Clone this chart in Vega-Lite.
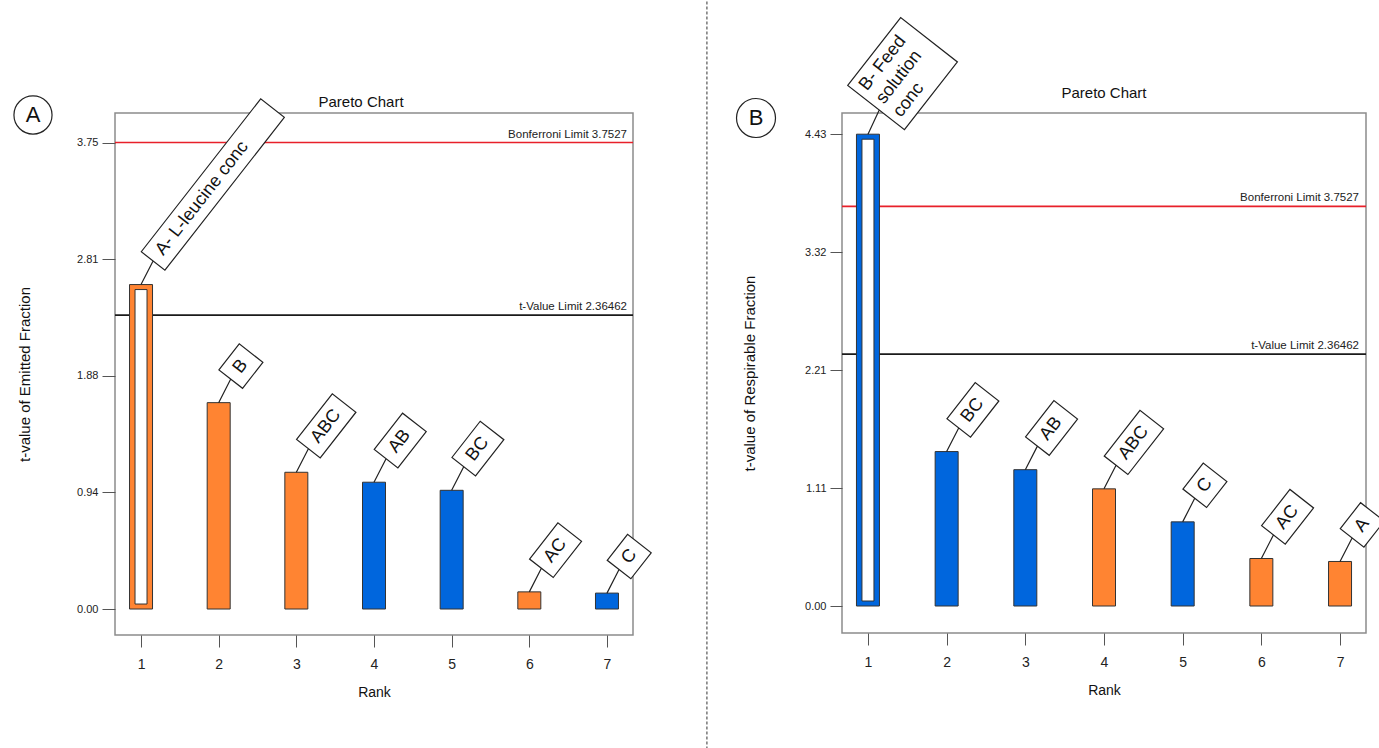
{
  "$schema": "https://vega.github.io/schema/vega-lite/v6.json",
  "padding": {"left": 10, "top": 0, "right": 0, "bottom": 0},
  "background": "white",
  "spacing": 209,
  "bounds": "flush",
  "config": {
    "font": "Liberation Sans",
    "view": {"stroke": "#8c8c8c", "strokeWidth": 1.5},
    "axis": {"grid": false, "domain": false, "tickColor": "#555", "tickWidth": 1, "labelColor": "#222", "titleColor": "#111", "titleFontWeight": "normal", "labelFont": "Liberation Sans", "titleFont": "Liberation Sans"}
  },
  "datasets": {
    "effA": [
      {"rank": 1, "tvalue": 2.61, "label": "A- L-leucine conc", "effect": "positive"},
      {"rank": 2, "tvalue": 1.66, "label": "B", "effect": "positive"},
      {"rank": 3, "tvalue": 1.10, "label": "ABC", "effect": "positive"},
      {"rank": 4, "tvalue": 1.02, "label": "AB", "effect": "negative"},
      {"rank": 5, "tvalue": 0.955, "label": "BC", "effect": "negative"},
      {"rank": 6, "tvalue": 0.138, "label": "AC", "effect": "positive"},
      {"rank": 7, "tvalue": 0.128, "label": "C", "effect": "negative"}
    ],
    "effB": [
      {"rank": 1, "tvalue": 4.43, "label": "B- Feed\nsolution\nconc", "effect": "negative"},
      {"rank": 2, "tvalue": 1.45, "label": "BC", "effect": "negative"},
      {"rank": 3, "tvalue": 1.28, "label": "AB", "effect": "negative"},
      {"rank": 4, "tvalue": 1.10, "label": "ABC", "effect": "positive"},
      {"rank": 5, "tvalue": 0.79, "label": "C", "effect": "negative"},
      {"rank": 6, "tvalue": 0.446, "label": "AC", "effect": "positive"},
      {"rank": 7, "tvalue": 0.418, "label": "A", "effect": "positive"}
    ],
    "limits": [
      {"limit": "Bonferroni Limit", "value": 3.7527, "text": "Bonferroni Limit 3.7527"},
      {"limit": "t-Value Limit", "value": 2.36462, "text": "t-Value Limit 2.36462"}
    ]
  },
  "resolve": {"scale": {"x": "independent", "y": "independent", "shape": "independent"}},
  "hconcat": [
    {
      "width": 518,
      "height": 522,
      "layer": [
        {
          "data": {"name": "limits"},
          "mark": {"type": "rule", "strokeWidth": 1.7},
          "encoding": {
            "y": {"field": "value", "type": "quantitative"},
            "stroke": {"field": "limit", "type": "nominal", "scale": {"domain": ["Bonferroni Limit", "t-Value Limit"], "range": ["#e8202a", "#1a1a1a"]}, "legend": null}
          }
        },
        {
          "data": {"name": "limits"},
          "mark": {"type": "text", "align": "right", "baseline": "alphabetic", "dx": -6, "dy": -5, "fontSize": 11.5, "color": "#222"},
          "encoding": {
            "x": {"datum": 7.335},
            "y": {"field": "value", "type": "quantitative"},
            "text": {"field": "text"}
          }
        },
        {
          "data": {"name": "effA"},
          "mark": {"type": "bar", "width": 23, "stroke": "#333", "strokeWidth": 1},
          "encoding": {
            "x": {"field": "rank", "type": "quantitative", "scale": {"domain": [0.665, 7.335], "nice": false, "zero": false, "padding": 0},
              "axis": {"values": [1, 2, 3, 4, 5, 6, 7], "format": "d", "title": "Rank", "tickSize": 12, "labelFontSize": 14, "labelPadding": 10, "titleFontSize": 14, "titlePadding": 14, "labelFlush": false}},
            "y": {"field": "tvalue", "type": "quantitative", "scale": {"domain": [-0.209, 3.99], "nice": false, "zero": false},
              "axis": {"values": [0, 0.938, 1.876, 2.814, 3.752], "format": ".2f", "title": "t-value of Emitted Fraction", "tickSize": 13, "labelFontSize": 11, "labelPadding": 4, "titleFontSize": 15, "titlePadding": 44}},
            "y2": {"datum": 0},
            "fill": {"field": "effect", "type": "nominal", "scale": {"domain": ["positive", "negative"], "range": ["#FF8432", "#0066DD"]}, "legend": null}
          }
        },
        {
          "data": {"name": "effA"},
          "transform": [{"filter": "datum.rank == 1"}],
          "mark": {"type": "bar", "width": 12, "fill": "white", "stroke": "#333", "strokeWidth": 1, "yOffset": 5, "y2Offset": -5},
          "encoding": {
            "x": {"field": "rank", "type": "quantitative"},
            "y": {"field": "tvalue", "type": "quantitative"},
            "y2": {"datum": 0}
          }
        },
        {
          "data": {"name": "effA"},
          "mark": {"type": "point", "size": 4, "angle": -52, "filled": true, "fill": "white", "stroke": "#222", "strokeWidth": 1.2, "opacity": 1, "fillOpacity": 1},
          "encoding": {
            "x": {"field": "rank", "type": "quantitative"},
            "y": {"field": "tvalue", "type": "quantitative"},
            "shape": {"field": "label", "type": "nominal", "legend": null,
              "scale": {"domain": ["A- L-leucine conc", "B", "ABC", "AB", "BC", "AC", "C"],
                "range": ["M0,0L26,-5M26,-20H220V10H26Z", "M0,0L26,-5M26,-20H59V10H26Z", "M0,0L26,-5M26,-20H84V10H26Z", "M0,0L26,-5M26,-20H72V10H26Z", "M0,0L26,-5M26,-20H72V10H26Z", "M0,0L26,-5M26,-20H72V10H26Z", "M0,0L26,-5M26,-20H59V10H26Z"]}}
          }
        },
        {
          "data": {"name": "effA"},
          "mark": {"type": "text", "angle": -52, "align": "left", "baseline": "middle", "dx": 36, "dy": -5, "fontSize": 18, "color": "#111"},
          "encoding": {
            "x": {"field": "rank", "type": "quantitative"},
            "y": {"field": "tvalue", "type": "quantitative"},
            "text": {"field": "label"}
          }
        },
        {
          "data": {"values": [{"title": "Pareto Chart"}]},
          "mark": {"type": "text", "fontSize": 15, "baseline": "middle", "align": "center", "color": "#111"},
          "encoding": {"x": {"datum": 3.833}, "y": {"datum": 4.078}, "text": {"field": "title"}}
        },
        {
          "data": {"values": [{"panel": "A"}]},
          "mark": {"type": "point", "shape": "circle", "size": 1452, "stroke": "#222", "strokeWidth": 1.2, "filled": false, "opacity": 1},
          "encoding": {"x": {"datum": -0.391}, "y": {"datum": 3.974}}
        },
        {
          "data": {"values": [{"panel": "A"}]},
          "mark": {"type": "text", "fontSize": 22, "baseline": "middle", "align": "center", "color": "#111"},
          "encoding": {"x": {"datum": -0.391}, "y": {"datum": 3.974}, "text": {"field": "panel"}}
        },
        {
          "data": {"values": [{"divider": "panels"}]},
          "mark": {"type": "rule", "strokeDash": [3, 2], "color": "#333", "strokeWidth": 1},
          "encoding": {"x": {"datum": 8.287}, "y": {"datum": 4.887}, "y2": {"datum": -1.118}}
        }
      ]
    },
    {
      "width": 524,
      "height": 520,
      "layer": [
        {
          "data": {"name": "limits"},
          "mark": {"type": "rule", "strokeWidth": 1.7},
          "encoding": {
            "y": {"field": "value", "type": "quantitative"},
            "stroke": {"field": "limit", "type": "nominal", "scale": {"domain": ["Bonferroni Limit", "t-Value Limit"], "range": ["#e8202a", "#1a1a1a"]}, "legend": null}
          }
        },
        {
          "data": {"name": "limits"},
          "mark": {"type": "text", "align": "right", "baseline": "alphabetic", "dx": -7, "dy": -5, "fontSize": 11.5, "color": "#222"},
          "encoding": {
            "x": {"datum": 7.33},
            "y": {"field": "value", "type": "quantitative"},
            "text": {"field": "text"}
          }
        },
        {
          "data": {"name": "effB"},
          "mark": {"type": "bar", "width": 23, "stroke": "#333", "strokeWidth": 1},
          "encoding": {
            "x": {"field": "rank", "type": "quantitative", "scale": {"domain": [0.67, 7.33], "nice": false, "zero": false, "padding": 0},
              "axis": {"values": [1, 2, 3, 4, 5, 6, 7], "format": "d", "title": "Rank", "tickSize": 12, "labelFontSize": 14, "labelPadding": 10, "titleFontSize": 14, "titlePadding": 14, "labelFlush": false}},
            "y": {"field": "tvalue", "type": "quantitative", "scale": {"domain": [-0.2535, 4.629], "nice": false, "zero": false},
              "axis": {"values": [0, 1.107, 2.214, 3.321, 4.43], "format": ".2f", "title": "t-value of Respirable Fraction", "tickSize": 12, "labelFontSize": 11, "labelPadding": 4, "titleFontSize": 15, "titlePadding": 47}},
            "y2": {"datum": 0},
            "fill": {"field": "effect", "type": "nominal", "scale": {"domain": ["positive", "negative"], "range": ["#FF8432", "#0066DD"]}, "legend": null}
          }
        },
        {
          "data": {"name": "effB"},
          "transform": [{"filter": "datum.rank == 1"}],
          "mark": {"type": "bar", "width": 12, "fill": "white", "stroke": "#333", "strokeWidth": 1, "yOffset": 5, "y2Offset": -5},
          "encoding": {
            "x": {"field": "rank", "type": "quantitative"},
            "y": {"field": "tvalue", "type": "quantitative"},
            "y2": {"datum": 0}
          }
        },
        {
          "data": {"values": [{"title": "Pareto Chart"}]},
          "mark": {"type": "text", "fontSize": 15, "baseline": "middle", "align": "center", "color": "#111"},
          "encoding": {"x": {"datum": 4.0}, "y": {"datum": 4.817}, "text": {"field": "title"}}
        },
        {
          "data": {"name": "effB"},
          "mark": {"type": "point", "size": 4, "angle": -52, "filled": true, "fill": "white", "stroke": "#222", "strokeWidth": 1.2, "opacity": 1, "fillOpacity": 1},
          "encoding": {
            "x": {"field": "rank", "type": "quantitative"},
            "y": {"field": "tvalue", "type": "quantitative"},
            "shape": {"field": "label", "type": "nominal", "legend": null,
              "scale": {"domain": ["B- Feed\nsolution\nconc", "BC", "AB", "ABC", "C", "AC", "A"],
                "range": ["M0,0L26,-6M26,-46H112V26H26Z", "M0,0L26,-5M26,-20H72V10H26Z", "M0,0L26,-5M26,-20H72V10H26Z", "M0,0L26,-5M26,-20H84V10H26Z", "M0,0L26,-5M26,-20H59V10H26Z", "M0,0L26,-5M26,-20H72V10H26Z", "M0,0L26,-5M26,-20H59V10H26Z"]}}
          }
        },
        {
          "data": {"name": "effB"},
          "transform": [{"filter": "datum.rank != 1"}],
          "mark": {"type": "text", "angle": -52, "align": "left", "baseline": "middle", "dx": 36, "dy": -5, "fontSize": 18, "color": "#111"},
          "encoding": {
            "x": {"field": "rank", "type": "quantitative"},
            "y": {"field": "tvalue", "type": "quantitative"},
            "text": {"field": "label"}
          }
        },
        {
          "data": {"name": "effB"},
          "transform": [{"filter": "datum.rank == 1"}],
          "mark": {"type": "text", "angle": -52, "align": "left", "baseline": "middle", "dx": 33, "dy": -32, "fontSize": 18, "lineBreak": "\n", "lineHeight": 21.5, "color": "#111"},
          "encoding": {
            "x": {"field": "rank", "type": "quantitative"},
            "y": {"field": "tvalue", "type": "quantitative"},
            "text": {"field": "label"}
          }
        },
        {
          "data": {"values": [{"panel": "B"}]},
          "mark": {"type": "point", "shape": "circle", "size": 1520, "stroke": "#222", "strokeWidth": 1.2, "filled": false, "opacity": 1},
          "encoding": {"x": {"datum": -0.423}, "y": {"datum": 4.582}}
        },
        {
          "data": {"values": [{"panel": "B"}]},
          "mark": {"type": "text", "fontSize": 22, "baseline": "middle", "align": "center", "color": "#111"},
          "encoding": {"x": {"datum": -0.423}, "y": {"datum": 4.582}, "text": {"field": "panel"}}
        }
      ]
    }
  ]
}
